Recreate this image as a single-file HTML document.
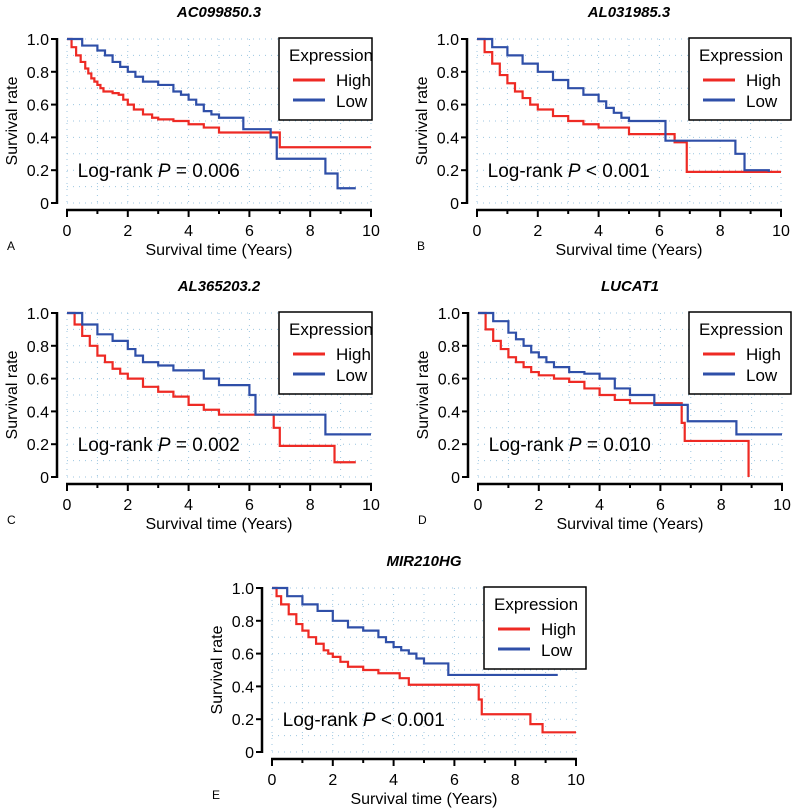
<!DOCTYPE html>
<html><head><meta charset="utf-8">
<style>
body{margin:0;background:#fff;}
svg{display:block;font-family:"Liberation Sans",Arial,sans-serif;}
</style></head>
<body>
<svg id="fig" width="800" height="811" viewBox="0 0 800 811"></svg>
<script>
const panelTitles = ["AC099850.3","AL031985.3","AL365203.2","LUCAT1","MIR210HG"];
const panelLetters = ["A","B","C","D","E"];
const pvalueLabels = ["= 0.006","< 0.001","= 0.002","= 0.010","< 0.001"];
const xTicks = [0,2,4,6,8,10];
const yTicks = [0,0.2,0.4,0.6,0.8,1.0];
const yTickLabels = ["0","0.2","0.4","0.6","0.8","1.0"];

const highA_t = [0,0.15,0.3,0.45,0.6,0.7,0.8,0.9,1,1.1,1.2,1.5,1.7,1.85,2,2.2,2.5,2.8,3,3.5,4,4.5,5,6.9,7,10];
const highA_s = [1,0.95,0.9,0.86,0.82,0.79,0.76,0.74,0.72,0.7,0.68,0.67,0.66,0.63,0.6,0.57,0.54,0.52,0.51,0.5,0.48,0.46,0.43,0.43,0.34,0.34];
const lowA_t = [0,0.5,1,1.25,1.5,1.75,2,2.25,2.5,3,3.5,3.75,4,4.25,4.5,4.75,5,5.8,6.7,6.9,8.5,8.9,9.5];
const lowA_s = [1,0.96,0.93,0.9,0.86,0.83,0.8,0.77,0.74,0.72,0.68,0.66,0.63,0.6,0.56,0.54,0.52,0.45,0.4,0.27,0.18,0.09,0.09];
const highB_t = [0,0.25,0.5,0.75,1,1.25,1.5,1.75,2,2.5,3,3.5,4,5,6.5,6.9,10];
const highB_s = [1,0.92,0.85,0.78,0.73,0.68,0.64,0.6,0.57,0.53,0.5,0.48,0.46,0.42,0.37,0.19,0.19];
const lowB_t = [0,0.5,1,1.5,2,2.5,3,3.5,4,4.25,4.5,4.75,5,6,6.2,8.5,8.8,9.6];
const lowB_s = [1,0.95,0.9,0.85,0.8,0.75,0.7,0.66,0.62,0.58,0.55,0.52,0.5,0.5,0.38,0.3,0.2,0.19];
const highC_t = [0,0.25,0.5,0.75,1,1.25,1.5,1.75,2,2.5,3,3.5,4,4.5,5,6,6.8,7,8.8,9.5];
const highC_s = [1,0.93,0.86,0.8,0.74,0.7,0.66,0.63,0.6,0.55,0.52,0.49,0.44,0.41,0.38,0.38,0.3,0.19,0.09,0.09];
const lowC_t = [0,0.5,1,1.5,2,2.25,2.5,3,3.5,4,4.5,5,6,6.2,8.5,10];
const lowC_s = [1,0.93,0.87,0.83,0.78,0.74,0.7,0.68,0.65,0.65,0.6,0.56,0.5,0.38,0.26,0.26];
const highD_t = [0,0.25,0.5,0.75,1,1.25,1.5,1.75,2,2.5,3,3.5,4,4.5,5,6,6.7,6.8,8.8,8.9];
const highD_s = [1,0.9,0.83,0.78,0.73,0.7,0.67,0.64,0.62,0.6,0.58,0.54,0.5,0.47,0.45,0.45,0.33,0.22,0.22,0];
const lowD_t = [0,0.5,1,1.25,1.5,1.75,2,2.25,2.5,3,3.5,4,4.5,5,5.8,6.9,8.5,10];
const lowD_s = [1,0.95,0.88,0.84,0.8,0.76,0.73,0.7,0.67,0.64,0.63,0.6,0.54,0.5,0.44,0.34,0.26,0.26];
const highE_t = [0,0.15,0.3,0.55,0.8,1,1.2,1.45,1.7,1.85,2,2.25,2.5,3,3.5,4.2,4.5,6.7,6.8,6.9,8.5,8.9,10];
const highE_s = [1,0.95,0.9,0.84,0.78,0.74,0.7,0.66,0.62,0.6,0.58,0.55,0.52,0.5,0.48,0.45,0.41,0.41,0.32,0.23,0.17,0.12,0.12];
const lowE_t = [0,0.5,1,1.5,2,2.5,3,3.5,3.75,4,4.25,4.5,4.75,5,5.8,9.4];
const lowE_s = [1,0.95,0.9,0.86,0.8,0.76,0.74,0.7,0.67,0.64,0.62,0.6,0.57,0.54,0.47,0.47];

const highT=[highA_t,highB_t,highC_t,highD_t,highE_t], highS=[highA_s,highB_s,highC_s,highD_s,highE_s];
const lowT=[lowA_t,lowB_t,lowC_t,lowD_t,lowE_t], lowS=[lowA_s,lowB_s,lowC_s,lowD_s,lowE_s];

const layout=[{x0:67,y1:39,lx:279},{x0:477,y1:39,lx:689},{x0:67,y1:313,lx:279},{x0:478,y1:313,lx:689},{x0:272,y1:588,lx:484}];
const NS="http://www.w3.org/2000/svg";
const svg=document.getElementById('fig');
function mk(tag,attrs,parent,text){const e=document.createElementNS(NS,tag);for(const k in attrs)e.setAttribute(k,attrs[k]);if(text!==undefined)e.textContent=text;parent.appendChild(e);return e;}

layout.forEach((L,i)=>{
  const W=304,H=164;
  const sx=t=>L.x0+t/10*W, sy=s=>L.y1+(1-s)*H;
  const g=mk('g',{},svg);
  
  
  for(let t=0;t<=10;t++){const l=mk('line',{x1:sx(t),x2:sx(t),y1:sy(1),y2:sy(0),stroke:'#9cc6e0','stroke-width':1,'stroke-dasharray':'1,5'},g);}
  for(let s=0;s<=1.001;s+=0.1){const l=mk('line',{x1:sx(0),x2:sx(10),y1:sy(s),y2:sy(s),stroke:'#9cc6e0','stroke-width':1,'stroke-dasharray':'1,5'},g);}
  const yax=L.x0-10, xax=sy(0)+7;
  const ya=mk('line',{x1:yax,x2:yax,y1:sy(1)-1,y2:sy(0)+1,stroke:'#000','stroke-width':2.5},g);
  
  const xa=mk('line',{x1:sx(0)-1,x2:sx(10)+1,y1:xax,y2:xax,stroke:'#000','stroke-width':2.5},g);
  
  yTicks.forEach((v,k)=>{
    mk('line',{x1:yax-6,x2:yax,y1:sy(v),y2:sy(v),stroke:'#000','stroke-width':2},g);
    const t=mk('text',{x:yax-8,y:sy(v)+6,'text-anchor':'end','font-size':16},g,yTickLabels[k]);
    
  });
  for(let t=0;t<=10;t++){mk('line',{x1:sx(t),x2:sx(t),y1:xax,y2:xax+(t%2?4:7),stroke:'#000','stroke-width':2},g);}
  xTicks.forEach(v=>{
    const t=mk('text',{x:sx(v),y:xax+26,'text-anchor':'middle','font-size':16},g,String(v));
    
  });
  const cx=(sx(0)+sx(10))/2;
  const tt=mk('text',{x:cx,y:L.y1-22,'text-anchor':'middle','font-size':15,'font-weight':'bold','font-style':'italic'},g,panelTitles[i]);
  
  const xt=mk('text',{x:cx,y:xax+45,'text-anchor':'middle','font-size':16},g,'Survival time (Years)');
  
  const yt=mk('text',{x:0,y:0,'text-anchor':'middle','font-size':16,transform:`translate(${L.x0-50},${sy(0.5)}) rotate(-90)`},g,'Survival rate');
  
  const pl=mk('text',{x:L.x0-60,y:xax+40,'font-size':12},g,panelLetters[i]);
  
  function curve(T,S,color,name){
    let d=`M${sx(T[0])},${sy(S[0])}`;
    for(let k=1;k<T.length;k++){d+=`H${sx(T[k])}V${sy(S[k])}`;}
    const p=mk('path',{d:d,fill:'none',stroke:color,'stroke-width':2.2},g);
    
  }
  curve(highT[i],highS[i],'#ee2a24','high-curve');
  curve(lowT[i],lowS[i],'#2f4fa8','low-curve');
  const lr=mk('text',{x:sx(0.35),y:sy(0.16),'font-size':19},g);
  
  lr.innerHTML='Log-rank <tspan font-style="italic">P</tspan> '+pvalueLabels[i].replace('<','&lt;');
  const lg=mk('g',{},g);
  
  const lw=i%2===0&&i<4?93:102;
  mk('rect',{x:L.lx,y:L.y1-1,width:lw,height:82,fill:'#fff',stroke:'#000','stroke-width':1.5},lg);
  mk('text',{x:L.lx+10,y:L.y1+22,'font-size':17},lg,'Expression');
  mk('line',{x1:L.lx+14,x2:L.lx+46,y1:L.y1+41,y2:L.y1+41,stroke:'#ee2a24','stroke-width':3},lg);
  mk('text',{x:L.lx+57,y:L.y1+47,'font-size':17},lg,'High');
  mk('line',{x1:L.lx+14,x2:L.lx+46,y1:L.y1+61,y2:L.y1+61,stroke:'#2f4fa8','stroke-width':3},lg);
  mk('text',{x:L.lx+57,y:L.y1+68,'font-size':17},lg,'Low');
});
</script>
</body></html>
